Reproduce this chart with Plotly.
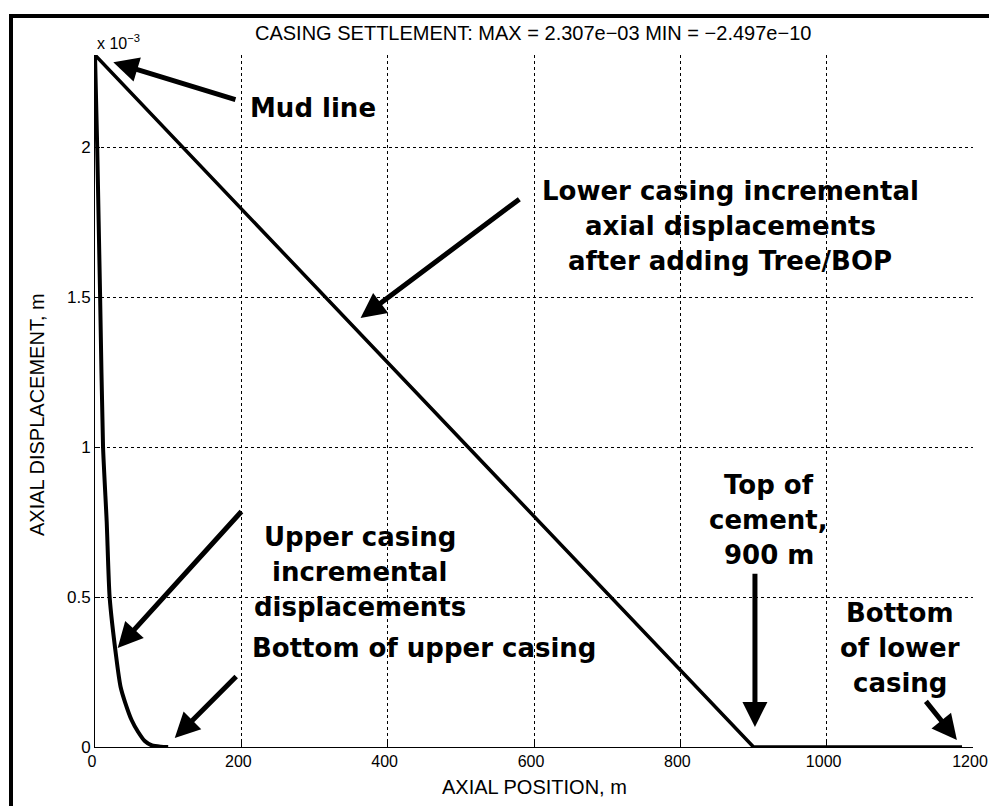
import plotly.graph_objects as go

# ---------------- data (displacement in units of 1e-3 m) ----------------
upper_pos = [0, 3, 5, 7, 11, 16, 20, 29, 35, 41, 50, 59, 68, 78, 90, 100]
upper_disp = [2.307, 2.0, 1.75, 1.5, 1.0, 0.75, 0.5, 0.3, 0.2, 0.15, 0.09, 0.05, 0.02, 0.005, 0.001, 0.0]

lower_pos = [0, 900, 1185]
lower_disp = [2.307, 0.0, 0.0]

x_ticks = [0, 200, 400, 600, 800, 1000, 1200]
y_ticks = [0, 0.5, 1, 1.5, 2]
y_tick_text = ["0", "0.5", "1", "1.5", "2"]

X_RANGE = [0, 1200]
Y_RANGE = [0, 2.307]

title_text = "CASING SETTLEMENT: MAX = 2.307e\u221203 MIN = \u22122.497e\u221210"
x_title = "AXIAL POSITION, m"
y_title = "AXIAL DISPLACEMENT, m"

# annotation labels: (lines, anchor x [m], anchor y [1e-3 m], xanchor)
labels = [
    (["Mud line"], 209, 2.13, "left"),
    (["Lower casing incremental", "axial displacements", "after adding Tree/BOP"], 868, 1.853, "center"),
    (["Upper casing", "incremental", "displacements"], 362, 0.70, "center"),
    (["Top of", "cement,", "900 m"], 921, 0.873, "center"),
    (["Bottom", "of lower", "casing"], 1100, 0.447, "center"),
    (["Bottom of upper casing"], 212, 0.33, "left"),
]
LINE_GAP = 0.117  # vertical spacing between text lines, in 1e-3 m

# arrows: (tail x, tail y, head x, head y) in data units
arrows = [
    (194, 2.157, 25, 2.283),
    (582, 1.83, 363, 1.43),
    (202, 0.79, 31, 0.33),
    (195, 0.24, 109, 0.03),
    (902, 0.583, 902, 0.067),
    (1134, 0.157, 1178, 0.023),
]

# ---------------- figure ----------------
OFF = 8                 # page body margin of the browser
W, H = 981, 798
ML, MR, MT, MB = 87, 16, 47, 59
PW, PH = W - ML - MR, H - MT - MB

def px_to_paper(px, py):
    """screen pixel (as seen in the window) -> paper coordinates"""
    return (px - OFF - ML) / PW, (OFF + H - MB - py) / PH

fig = go.Figure()
fig.add_trace(go.Scatter(x=lower_pos, y=lower_disp, mode="lines",
                         line=dict(color="black", width=3.5), hoverinfo="skip"))
fig.add_trace(go.Scatter(x=upper_pos, y=upper_disp, mode="lines",
                         line=dict(color="black", width=4, shape="spline", smoothing=0.6),
                         hoverinfo="skip"))

FAM = "Liberation Sans, Arial, Helvetica"
axis_font = dict(family=FAM, size=20, color="black")
xtick_font = dict(family=FAM, size=16, color="black")
ytick_font = dict(family=FAM, size=17, color="black")
ann_font = dict(family="DejaVu Sans, Verdana", size=26, color="black")

annotations = []
for lines, ax_, ay_, xa in labels:
    for i, t in enumerate(lines):
        annotations.append(dict(x=ax_, y=ay_ - i * LINE_GAP, xref="x", yref="y",
                                text="<b>" + t + "</b>", showarrow=False,
                                xanchor=xa, yanchor="middle", font=ann_font))
for tx, ty, hx, hy in arrows:
    annotations.append(dict(x=hx, y=hy, ax=tx, ay=ty, xref="x", yref="y",
                            axref="x", ayref="y", text="", showarrow=True,
                            arrowhead=2, arrowsize=1.0, arrowwidth=5,
                            arrowcolor="black", standoff=0, startstandoff=0))

# title, multiplier, axis titles
tx_, ty_ = px_to_paper(533, 33)
annotations.append(dict(x=tx_, y=ty_, xref="paper", yref="paper", text=title_text,
                        showarrow=False, xanchor="center", yanchor="middle", font=axis_font))
mx, my = px_to_paper(95, 42)
annotations.append(dict(x=mx, y=my, xref="paper", yref="paper", text="x 10<sup>\u22123</sup>",
                        showarrow=False, xanchor="left", yanchor="middle",
                        font=dict(family=FAM, size=16, color="black")))
xx, xy = px_to_paper(534, 787)
annotations.append(dict(x=xx, y=xy, xref="paper", yref="paper", text=x_title,
                        showarrow=False, xanchor="center", yanchor="middle", font=axis_font))
yx, yy = px_to_paper(37, 415)
annotations.append(dict(x=yx, y=yy, xref="paper", yref="paper", text=y_title, textangle=-90,
                        showarrow=False, xanchor="center", yanchor="middle", font=axis_font))

# outer frame (left and top borders of the pasted figure)
lx0, _ = px_to_paper(9, 0)
lx1, _ = px_to_paper(13, 0)
_, ty0 = px_to_paper(0, 14)
_, ty1 = px_to_paper(0, 18)
_, yb = px_to_paper(0, 810)
rx, _ = px_to_paper(1000, 0)
shapes = [
    dict(type="rect", xref="paper", yref="paper", x0=lx0, x1=lx1, y0=yb, y1=ty0,
         fillcolor="black", line=dict(width=0), layer="above"),
    dict(type="rect", xref="paper", yref="paper", x0=lx0, x1=rx, y0=ty1, y1=ty0,
         fillcolor="black", line=dict(width=0), layer="above"),
]

grid = dict(showgrid=True, gridcolor="black", gridwidth=1, griddash="dot",
            zeroline=False, showline=True, linecolor="black", linewidth=1,
            ticks="inside", ticklen=5, tickcolor="black",
            automargin=False, ticklabeloverflow="allow")

fig.update_layout(
    width=W, height=H, autosize=False,
    margin=dict(l=ML, r=MR, t=MT, b=MB, pad=0),
    paper_bgcolor="white", plot_bgcolor="white",
    showlegend=False,
    annotations=annotations, shapes=shapes,
    xaxis=dict(range=X_RANGE, tickvals=x_ticks, tickfont=xtick_font, ticklabelshift=-3, **grid),
    yaxis=dict(range=Y_RANGE, tickvals=y_ticks, ticktext=y_tick_text, tickfont=ytick_font, **grid),
)

fig.write_html("out.html")
